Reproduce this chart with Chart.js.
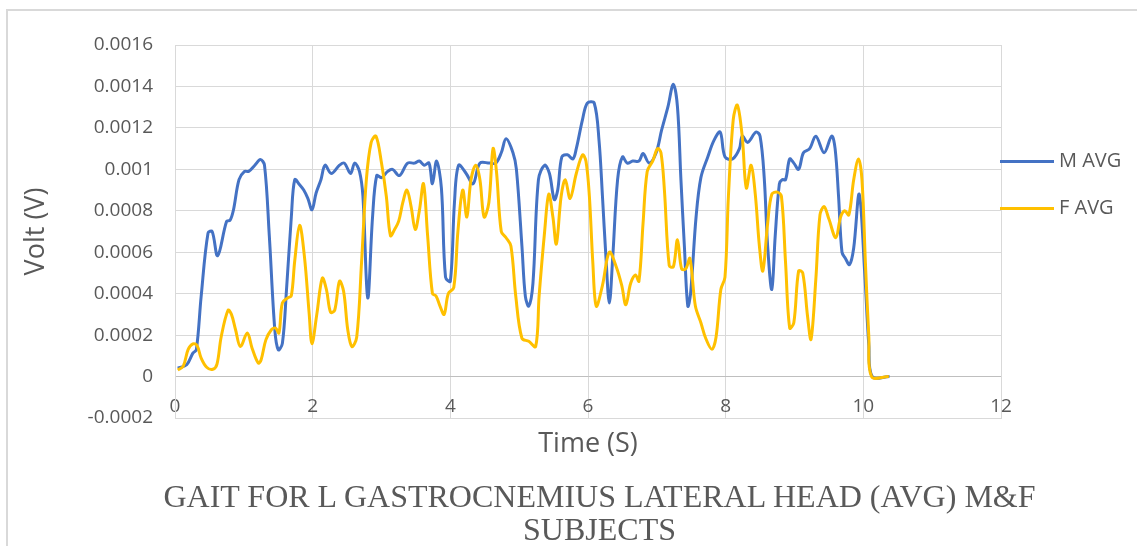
<!DOCTYPE html>
<html>
<head>
<meta charset="utf-8">
<script src="https://cdn.jsdelivr.net/npm/chart.js@4"></script>
<style>
  body { margin: 0; background: #fff; }
  #wrap { position: relative; width: 1137px; height: 546px; overflow: hidden; }
  #frame { position: absolute; left: 6px; top: 9px; width: 1200px; height: 600px;
           border-left: 2px solid #d9d9d9; border-top: 2px solid #d9d9d9; }
  #myChart { position: absolute; left: 0; top: 0; }
  .leg { position: absolute; left: 1000px; font: 20px "Open Sans", sans-serif; color: #595959; }
  .leg span { display: inline-block; width: 54px; height: 3px; vertical-align: middle; margin-right: 5px; }
  #title { position: absolute; left: 0; width: 1199px; top: 480px; text-align: center;
           font: 32px "Liberation Serif", serif; color: #595959; line-height: 33px; }
</style>
</head>
<body>
<div id="wrap">
  <div id="frame"></div>
  <canvas id="myChart" width="1137" height="546"></canvas>
  <div class="leg" style="top:146px"><span style="background:#4472C4"></span>M AVG</div>
  <div class="leg" style="top:193px"><span style="background:#FFC000"></span>F AVG</div>
  <div id="title">GAIT FOR L GASTROCNEMIUS LATERAL HEAD (AVG) M&amp;F<br>SUBJECTS</div>
</div>
<script>
'use strict';

// values
let mTime = [0.04, 0.17, 0.26, 0.31, 0.38, 0.48, 0.54, 0.62, 0.75, 0.80, 0.85, 0.93, 1.01, 1.07, 1.16, 1.24, 1.30, 1.37, 1.45, 1.50,
  1.56, 1.62, 1.69, 1.74, 1.81, 1.87, 1.93, 1.99, 2.05, 2.12, 2.18, 2.27, 2.39, 2.46, 2.55, 2.61, 2.68, 2.73, 2.80, 2.87,
  2.93, 3.00, 3.09, 3.16, 3.26, 3.38, 3.48, 3.55, 3.62, 3.69, 3.74, 3.80, 3.87, 3.93, 4.00, 4.06, 4.12, 4.23, 4.33, 4.43,
  4.57, 4.66, 4.74, 4.81, 4.91, 4.96, 5.04, 5.09, 5.14, 5.20, 5.28, 5.37, 5.44, 5.51, 5.56, 5.62, 5.70, 5.78, 5.83, 5.92,
  5.99, 6.09, 6.16, 6.21, 6.26, 6.31, 6.36, 6.43, 6.50, 6.57, 6.65, 6.74, 6.80, 6.89, 6.99, 7.07, 7.16, 7.24, 7.30, 7.35,
  7.40, 7.45, 7.49, 7.57, 7.64, 7.74, 7.83, 7.92, 7.99, 8.10, 8.20, 8.24, 8.32, 8.44, 8.50, 8.56, 8.61, 8.67, 8.72, 8.78,
  8.82, 8.87, 8.93, 8.99, 9.06, 9.13, 9.22, 9.31, 9.43, 9.54, 9.59, 9.64, 9.69, 9.74, 9.80, 9.86, 9.94, 10.02, 10.08, 10.13, 10.38];
let mVolt = [0.00004, 0.000057, 0.000113, 0.000129, 0.000387, 0.000693, 0.0007, 0.000583, 0.000749, 0.000754, 0.000805, 0.00095, 0.00099, 0.00099, 0.00102, 0.001047, 0.00102, 0.00068, 0.000226, 0.000129,
  0.00016, 0.00042, 0.00077, 0.00095, 0.000926, 0.0009, 0.00086, 0.000805, 0.000886, 0.00095, 0.00102, 0.00098, 0.00102, 0.00103, 0.00098, 0.00103, 0.00099, 0.00087, 0.00038, 0.00077,
  0.00097, 0.00096, 0.00099, 0.001, 0.00097, 0.00103, 0.00103, 0.00104, 0.00102, 0.00103, 0.00093, 0.00104, 0.00091, 0.00048, 0.00046, 0.00084, 0.00102, 0.00098, 0.00093, 0.00103,
  0.00103, 0.00103, 0.00108, 0.001147, 0.00108, 0.001, 0.00063, 0.000387, 0.00034, 0.00045, 0.00095, 0.00102, 0.00098, 0.000854, 0.0009, 0.00106, 0.00107, 0.00105, 0.0011, 0.00124,
  0.00132, 0.00132, 0.00114, 0.00087, 0.00058, 0.000355, 0.00058, 0.00095, 0.00106, 0.00103, 0.00104, 0.00104, 0.001076, 0.00103, 0.00108, 0.00119, 0.0013, 0.00141, 0.0013, 0.00095,
  0.00063, 0.00034, 0.0004, 0.00077, 0.00096, 0.00106, 0.00114, 0.00118, 0.00106, 0.00105, 0.0011, 0.00116, 0.00113, 0.00118, 0.00116, 0.00096, 0.00063, 0.00042, 0.00068, 0.00093,
  0.00095, 0.00095, 0.00105, 0.00103, 0.001, 0.00108, 0.0011, 0.00116, 0.00108, 0.00116, 0.0011, 0.00087, 0.0006, 0.00057, 0.00054, 0.00062, 0.00088, 0.0005, 0.00015, 0, 0];

let fTime = [0.04, 0.12, 0.19, 0.26, 0.32, 0.38, 0.46, 0.55, 0.61, 0.67, 0.77, 0.82, 0.88, 0.95, 1.05, 1.12, 1.21, 1.25, 1.32, 1.40,
  1.46, 1.51, 1.56, 1.64, 1.69, 1.74, 1.81, 1.88, 1.95, 1.99, 2.06, 2.14, 2.20, 2.26, 2.32, 2.39, 2.45, 2.51, 2.57, 2.64,
  2.71, 2.78, 2.85, 2.92, 3.00, 3.07, 3.13, 3.19, 3.25, 3.31, 3.37, 3.43, 3.49, 3.55, 3.61, 3.67, 3.74, 3.79, 3.85, 3.91,
  3.97, 4.05, 4.11, 4.18, 4.24, 4.30, 4.37, 4.43, 4.49, 4.56, 4.62, 4.67, 4.74, 4.81, 4.88, 4.95, 5.04, 5.14, 5.24, 5.29,
  5.37, 5.43, 5.49, 5.54, 5.61, 5.67, 5.74, 5.83, 5.92, 5.97, 6.02, 6.07, 6.12, 6.21, 6.31, 6.41, 6.49, 6.55, 6.62, 6.69,
  6.74, 6.80, 6.86, 6.94, 7.01, 7.06, 7.11, 7.18, 7.24, 7.30, 7.36, 7.42, 7.48, 7.56, 7.64, 7.71, 7.80, 7.86, 7.93, 7.99,
  8.04, 8.11, 8.17, 8.24, 8.30, 8.37, 8.43, 8.49, 8.54, 8.61, 8.67, 8.75, 8.81, 8.87, 8.93, 8.99, 9.06, 9.12, 9.19, 9.24,
  9.31, 9.37, 9.43, 9.50, 9.60, 9.67, 9.73, 9.79, 9.86, 9.93, 9.98, 10.03, 10.08, 10.12, 10.37];
let fVolt = [0.000032, 0.00005, 0.00013, 0.000158, 0.00015, 0.000089, 0.000045, 0.000035, 0.00006, 0.00019, 0.00032, 0.0003, 0.000226, 0.000145, 0.00021, 0.000137, 0.000065, 0.00008, 0.000177, 0.000226,
  0.000234, 0.00021, 0.000355, 0.00038, 0.00039, 0.00056, 0.00073, 0.00058, 0.0003, 0.000158, 0.0003, 0.000475, 0.00042, 0.00031, 0.00032, 0.00046, 0.00041, 0.000226, 0.000145, 0.00019,
  0.00055, 0.00095, 0.00113, 0.00116, 0.00103, 0.00087, 0.00068, 0.00071, 0.00075, 0.00084, 0.0009, 0.00082, 0.00071, 0.0008, 0.00093, 0.00068, 0.0004, 0.00039, 0.00034, 0.0003,
  0.0004, 0.00043, 0.0007, 0.0009, 0.00077, 0.00095, 0.00102, 0.00095, 0.00077, 0.00084, 0.0011, 0.00099, 0.0007, 0.00067, 0.00063, 0.00039, 0.000185, 0.00017, 0.000145, 0.00039,
  0.0007, 0.00088, 0.00077, 0.00064, 0.00087, 0.00095, 0.00086, 0.00098, 0.00107, 0.00104, 0.00087, 0.00055, 0.00034, 0.00044, 0.0006, 0.00053, 0.00044, 0.000346, 0.00045, 0.00049,
  0.00046, 0.00074, 0.00099, 0.00104, 0.0011, 0.00108, 0.0009, 0.000535, 0.00053, 0.00066, 0.00052, 0.00052, 0.00057, 0.00034, 0.00026, 0.000185, 0.000132, 0.00019, 0.00042, 0.00048,
  0.00087, 0.00124, 0.00131, 0.00116, 0.00091, 0.00102, 0.00088, 0.00063, 0.00051, 0.00074, 0.00088, 0.00089, 0.00087, 0.00055, 0.000234, 0.00026, 0.00051, 0.0005, 0.00029, 0.00018,
  0.00047, 0.00078, 0.00082, 0.00076, 0.00067, 0.00077, 0.0008, 0.00078, 0.00095, 0.00105, 0.00095, 0.00055, 0.00019, 0, 0];

let xTicks = [0, 2, 4, 6, 8, 10, 12];
let yTicks = [-0.0002, 0, 0.0002, 0.0004, 0.0006, 0.0008, 0.001, 0.0012, 0.0014, 0.0016];

function toPoints(xs, ys) {
  let out = [];
  for (let i = 0; i < xs.length; i++) {
    out.push({x: xs[i], y: ys[i]});
  }
  return out;
}

let grey = '#595959';
let gridGrey = '#d9d9d9';

let ctx = document.getElementById('myChart').getContext('2d');
let myChart = new Chart(ctx, {
  type: 'line',
  data: {
    datasets: [
      {
        label: 'M AVG',
        data: toPoints(mTime, mVolt),
        borderColor: '#4472C4',
        borderWidth: 3,
        pointRadius: 0,
        tension: 0.35,
        order: 1
      },
      {
        label: 'F AVG',
        data: toPoints(fTime, fVolt),
        borderColor: '#FFC000',
        borderWidth: 3,
        pointRadius: 0,
        tension: 0.35,
        order: 0
      }
    ]
  },
  options: {
    responsive: false,
    animation: false,
    layout: { padding: { top: 45, right: 136, bottom: 81, left: 0 } },
    plugins: {
      legend: { display: false },
      title: { display: false },
      tooltip: { enabled: false }
    },
    scales: {
      x: {
        type: 'linear',
        min: 0,
        max: 12,
        afterBuildTicks: function (scale) {
          scale.ticks = xTicks.map(v => ({value: v}));
        },
        afterFit: function (scale) { scale.height = 47; },
        grid: { color: gridGrey, drawTicks: false },
        border: { color: gridGrey },
        ticks: {
          color: grey,
          font: { family: 'Open Sans', size: 19 },
          mirror: true,
          padding: 0,
          maxRotation: 0,
          autoSkip: false
        },
        title: {
          display: true,
          text: 'Time (S)',
          color: grey,
          font: { family: 'Open Sans', size: 27 },
          padding: { top: 0, bottom: 4 }
        }
      },
      y: {
        min: -0.0002,
        max: 0.0016,
        afterBuildTicks: function (scale) {
          scale.ticks = yTicks.map(v => ({value: v}));
        },
        afterFit: function (scale) { scale.width = 175; },
        grid: {
          color: function (c) { return c.tick && c.tick.value === 0 ? '#bfbfbf' : gridGrey; },
          drawTicks: false
        },
        border: { color: gridGrey },
        ticks: {
          color: grey,
          font: { family: 'Open Sans', size: 19 },
          padding: 22,
          callback: function (v) { return String(Number(v.toFixed(4))); }
        },
        title: {
          display: true,
          text: 'Volt (V)',
          color: grey,
          font: { family: 'Open Sans', size: 27 },
          padding: { top: 20, bottom: 0 }
        }
      }
    }
  }
});
</script>
</body>
</html>
